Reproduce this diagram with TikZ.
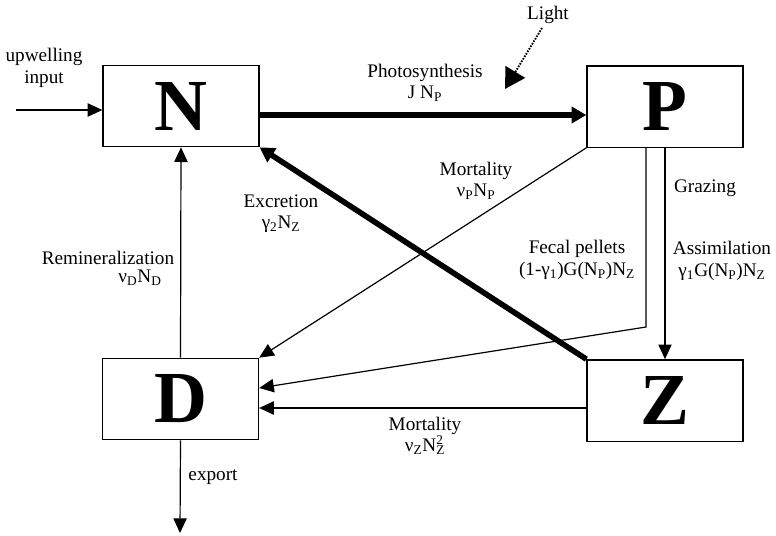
\documentclass[tikz,border=0pt]{standalone}
\usepackage{fontspec}
\setmainfont{Liberation Serif}
\usepackage{tikz}
\usetikzlibrary{calc,arrows.meta}
\newcommand{\subsup}[2]{\rlap{\textsuperscript{#2}}\textsubscript{#1}}
\tikzset{
  box/.style={draw, line width=1pt, fill=white, minimum width=117pt, minimum height=61pt,
    inner sep=0pt, font=\fontsize{55}{55}\selectfont\bfseries},
  flow/.style={draw, line width=0.9pt, -{Triangle[length=11pt,width=10pt]}},
  thickflow/.style={draw, line width=4.2pt, -{Triangle[length=11pt,width=12pt]}},
  lightarr/.style={draw, line width=1.4pt, dash pattern=on 1.2pt off 1pt,
    -{Triangle[length=15pt,width=17pt]}},
  lab/.style={font=\fontsize{14.4}{16}\selectfont, align=center, inner sep=0pt},
}
\begin{document}
\begin{tikzpicture}[x=0.75pt,y=-0.75pt]
  \useasboundingbox (0,0) rectangle (776,536);

  % compartments
  \node[box] (N) at (181,106) {N};
  \node[box] (P) at (665,106.5) {P};
  \node[box] (D) at (180.5,399) {D};
  \node[box] (Z) at (665,400.5) {Z};

  \coordinate (up) at (16,110);
  \coordinate (exp) at (180,533);
  \coordinate (lsrc) at (542,28);
  \coordinate (ltip) at (505,89);
  \coordinate (fbend) at (646,327);

  % fluxes
  \draw[flow] (up) -- (up -| N.west);
  \draw[thickflow] (N.east |- 0,115) -- (P.west |- 0,115);
  \draw[lightarr] (lsrc) -- (ltip);
  \draw[flow] (D.north) -- (N.south);
  \draw[flow] (D.south) -- (exp);
  \draw[thickflow] (Z.north west) -- (N.south east);
  \draw[flow] (P.south west) -- (D.north east);
  \draw[flow] (P.south) -- (Z.north);
  \draw[flow] (P.south -| fbend) -- (fbend) -- (D.east |- 0,388);
  \draw[flow] (Z.west |- 0,408) -- (D.east |- 0,408);

  % labels
  \node[lab] (uplab) at (44,68) {upwelling\\input};
  \node[lab] (phlab) at (425,83) {Photosynthesis\\J N\textsubscript{P}};
  \node[lab] (ltlab) at (548,15) {Light};
  \node[lab] (mplab) at (476,181) {Mortality\\ν\textsubscript{P}N\textsubscript{P}};
  \node[lab] (exlab) at (281,214) {Excretion\\γ\textsubscript{2}N\textsubscript{Z}};
  \node[lab] (rmlab) at (108,258) {Remineralization};
  \node[lab] (rmeq) at (140,278) {ν\textsubscript{D}N\textsubscript{D}};
  \node[lab] (grlab) at (705,188) {Grazing};
  \node[lab] (fplab) at (577,260) {Fecal pellets\\(1-γ\textsubscript{1})G(N\textsubscript{P})N\textsubscript{Z}};
  \node[lab] (aslab) at (722,261) {Assimilation\\γ\textsubscript{1}G(N\textsubscript{P})N\textsubscript{Z}};
  \node[lab] (mzlab) at (425,436) {Mortality\\ν\textsubscript{Z}N\subsup{Z}{2}};
  \node[lab] (exptlab) at (213,477) {export};
\end{tikzpicture}
\end{document}
